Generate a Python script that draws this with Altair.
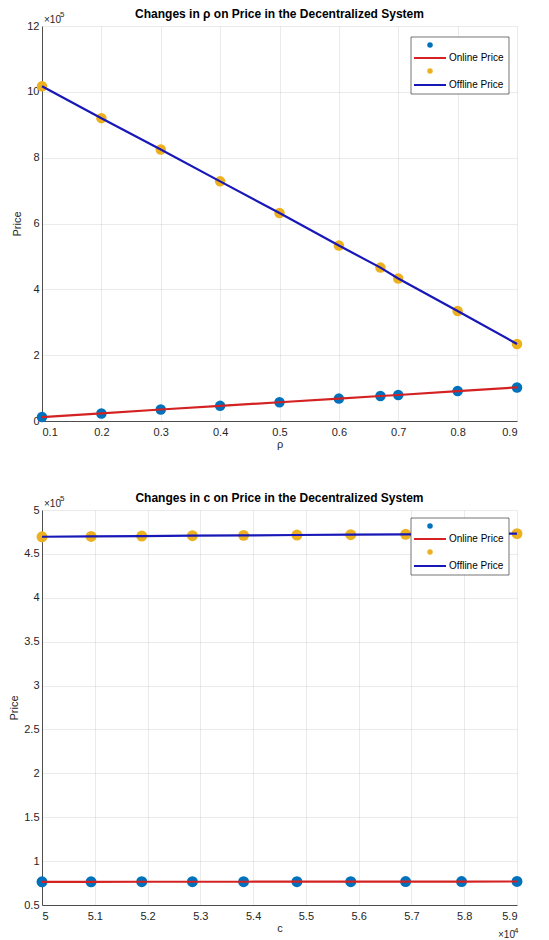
import altair as alt
import pandas as pd

# ---------------- data ----------------
rho = [0.1, 0.2, 0.3, 0.4, 0.5, 0.6, 0.67, 0.7, 0.8, 0.9]
online_rho = [12000, 23000, 35000, 46000, 57000, 68000, 76000, 79000, 91000, 102000]
offline_rho = [1017000, 920000, 825000, 728000, 632000, 533000, 466000, 433000, 334000, 234000]

c_vals = [50000, 50930, 51890, 52850, 53820, 54830, 55850, 56890, 57950, 59000]
online_c = [76400, 76400, 76500, 76500, 76500, 76600, 76600, 76700, 76700, 76800]
offline_c = [469500, 469900, 470300, 470700, 471100, 471500, 471900, 472300, 472700, 473100]

rho_ticks = [0.1, 0.2, 0.3, 0.4, 0.5, 0.6, 0.7, 0.8, 0.9]
price_ticks_top = [0, 200000, 400000, 600000, 800000, 1000000, 1200000]
c_ticks = [50000, 51000, 52000, 53000, 54000, 55000, 56000, 57000, 58000, 59000]
price_ticks_bottom = [50000, 100000, 150000, 200000, 250000, 300000, 350000, 400000, 450000, 500000]

series_names = ["Online Price", "Offline Price"]
titles = ["Changes in \u03c1 on Price in the Decentralized System",
          "Changes in c on Price in the Decentralized System"]

FONT = "Liberation Sans"
W, H = 475, 395
DOT_ON = "#0072BD"
DOT_OFF = "#EDB120"
LINE_ON = "#D42222"
LINE_OFF = "#1818B8"
INK = "#262626"


def one():
    return alt.Chart(alt.Data(values=[{"k": 1}]))


def txt(text, x, y, size, align="left", baseline="alphabetic", weight="normal", color=INK):
    return one().mark_text(text=text, font=FONT, fontSize=size, color=color, align=align,
                           baseline=baseline, fontWeight=weight).encode(x=alt.value(x), y=alt.value(y))


def panel(xv, on, off, title, xtitle, xdom, ydom, xticks, yticks, xlab, lg_top, dot_size, xexp):
    n = len(xv)
    df = pd.DataFrame({
        "x": list(xv) * 2,
        "price": list(on) + list(off),
        "series": [series_names[0]] * n + [series_names[1]] * n,
    })
    xenc = alt.X("x:Q", scale=alt.Scale(domain=xdom, nice=False, zero=False),
                 axis=alt.Axis(values=xticks, title=xtitle, labelExpr=xlab))
    yenc = alt.Y("price:Q", scale=alt.Scale(domain=ydom, nice=False, zero=False),
                 axis=alt.Axis(values=yticks, title="Price",
                               labelExpr="datum.value / 100000 + ''"))
    base = alt.Chart(df).encode(x=xenc, y=yenc)
    f_on = "datum.series == 'Online Price'"
    f_off = "datum.series == 'Offline Price'"
    on_pts = base.transform_filter(f_on).mark_circle(size=dot_size, color=DOT_ON, opacity=1)
    on_line = base.transform_filter(f_on).mark_line(color=LINE_ON, strokeWidth=2.2)
    off_pts = base.transform_filter(f_off).mark_circle(size=dot_size, color=DOT_OFF, opacity=1)
    off_line = base.transform_filter(f_off).mark_line(color=LINE_OFF, strokeWidth=2.2)

    layers = [on_pts, on_line, off_pts, off_line]
    # title and exponent labels
    layers.append(txt(title, W / 2, -12, 12, align="center", baseline="middle", weight="bold", color="black"))
    layers.append(txt("\u00d710", 2, -3, 10))
    layers.append(txt("5", 18, -9, 8))
    if xexp:
        layers.append(txt("\u00d710", W - 19, H + 33, 10))
        layers.append(txt("4", W - 3, H + 28, 8))

    # legend box
    bx0, bx1 = W - 106, W - 8
    t = lg_top
    box = one().mark_rect(fill="white", stroke=INK, strokeWidth=0.8, strokeOpacity=0.8).encode(
        x=alt.value(bx0), x2=alt.value(bx1), y=alt.value(t), y2=alt.value(t + 57))
    d1 = one().mark_circle(size=30, color=DOT_ON, opacity=1).encode(x=alt.value(bx0 + 19), y=alt.value(t + 8))
    r1 = one().mark_rule(color=LINE_ON, strokeWidth=2).encode(
        x=alt.value(bx0 + 3), x2=alt.value(bx0 + 35), y=alt.value(t + 21))
    t1 = txt(series_names[0], bx0 + 38, t + 21, 10, baseline="middle", color="black")
    d2 = one().mark_circle(size=30, color=DOT_OFF, opacity=1).encode(x=alt.value(bx0 + 19), y=alt.value(t + 34))
    r2 = one().mark_rule(color=LINE_OFF, strokeWidth=2).encode(
        x=alt.value(bx0 + 3), x2=alt.value(bx0 + 35), y=alt.value(t + 48))
    t2 = txt(series_names[1], bx0 + 38, t + 48, 10, baseline="middle", color="black")
    layers += [box, d1, r1, t1, d2, r2, t2]

    return alt.layer(*layers).properties(width=W, height=H)


top = panel(rho, online_rho, offline_rho, titles[0], "\u03c1",
            [0.1, 0.9], [0, 1200000], rho_ticks, price_ticks_top,
            "format(datum.value, '.1f')", 11, 110, False)
bottom = panel(c_vals, online_c, offline_c, titles[1], "c",
               [50000, 59000], [50000, 500000], c_ticks, price_ticks_bottom,
               "datum.value / 10000 + ''", 8, 120, True)

chart = alt.vconcat(top, bottom, spacing=89, bounds="flush").properties(
    padding={"left": 0, "top": 0, "right": 0, "bottom": 0}
).configure_view(stroke=None).configure_axis(
    labelFont=FONT, titleFont=FONT, labelFontSize=11, titleFontSize=11,
    labelColor=INK, titleColor=INK, titleFontWeight="normal",
    domainColor="#4d4d4d", domainWidth=1, ticks=False,
    gridColor=INK, gridOpacity=0.12, gridWidth=0.8,
).configure_axisY(titlePadding=4, labelPadding=3).configure_axisX(titlePadding=1, labelPadding=5)

chart.save("out.html", embed_options={"renderer": "svg", "actions": False})
